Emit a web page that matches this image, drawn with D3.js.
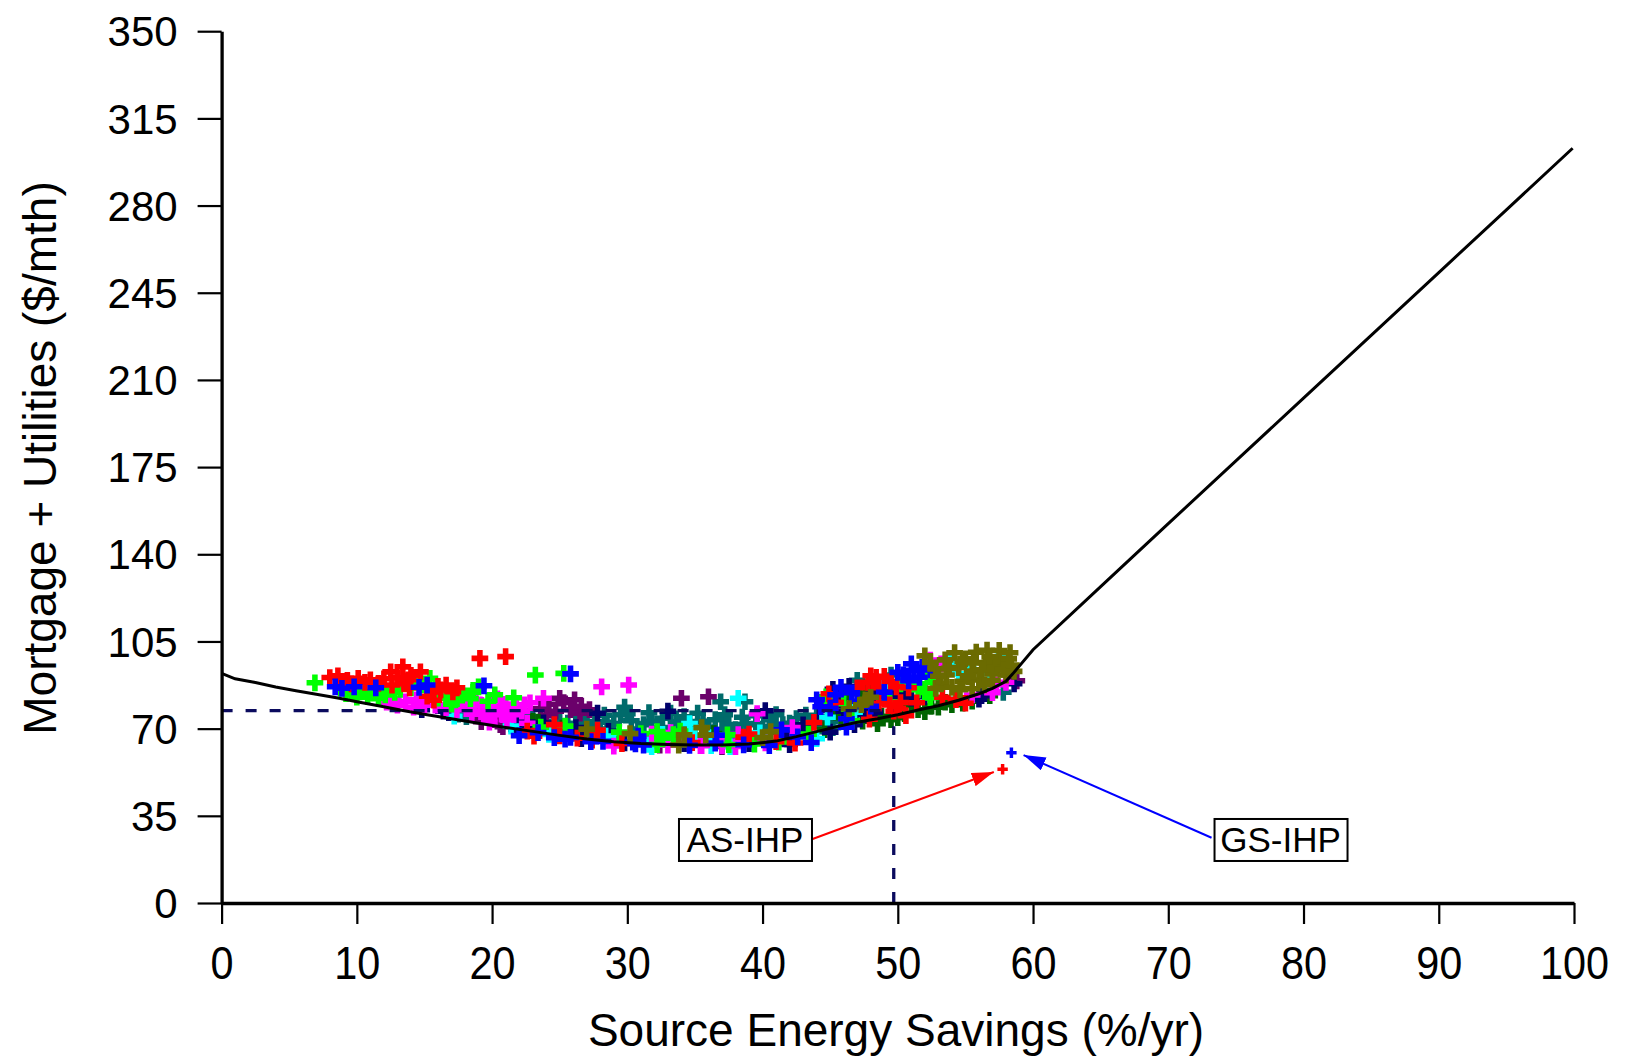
<!DOCTYPE html>
<html>
<head>
<meta charset="utf-8">
<script src="https://cdn.jsdelivr.net/npm/d3@7"></script>
<style>
  body { margin: 0; background: #fff; }
  svg { display: block; }
  text { font-family: "Liberation Sans", Arial, sans-serif; fill: #000; }
</style>
</head>
<body>
<svg id="chart" width="1631" height="1060"></svg>
<script>
// Axis ticks
const xTicks = [0, 10, 20, 30, 40, 50, 60, 70, 80, 90, 100];
const yTicks = [0, 35, 70, 105, 140, 175, 210, 245, 280, 315, 350];

// Least-cost envelope: source energy savings (%/yr) vs mortgage + utilities ($/mth)
const costCurve = [
  [0, 92.2], [1, 90.0], [2.5, 88.5], [4, 86.7], [5.5, 85.2], [7, 83.8], [8.7, 82.2],
  [10.2, 80.6], [11.8, 79.0], [13.4, 77.3], [15.2, 75.6], [17, 74.0], [19, 72.2],
  [21, 70.5], [23, 68.9], [25, 67.3], [27, 65.8], [29, 64.7], [31, 64.0], [33, 63.6],
  [35, 63.4], [37, 63.4], [39, 63.8], [41, 65.0], [42.5, 66.8], [44, 68.8], [45.5, 70.8],
  [47, 72.6], [48.5, 74.0], [50, 75.6], [51.5, 77.5], [53, 79.2], [54.5, 81.4], [56, 84.0],
  [57, 86.2], [58, 89.0], [58.5, 92.0], [60, 101.7], [65, 127.0], [70, 152.3], [75, 177.5],
  [80, 202.7], [85, 227.9], [90, 253.1], [95, 278.3], [99.9, 303.0]
];

// Reference design marked by the dashed guide lines
const refSavings = 49.7;
const refCost = 77.2;

// Simulated design points, one array per group
const seriesRed = [
  [8.0, 90.5], [8.6, 91.2], [9.3, 89.4], [10.1, 90.2], [9.6, 88.0], [10.6, 88.6],
  [12.5, 92.8], [13.4, 94.8], [14.7, 92.8], [13.0, 90.4], [12.6, 87.5], [13.5, 88.0], [13.9, 86.4],
  [15.2, 83.0], [15.7, 81.4], [16.6, 87.5], [17.1, 84.8], [16.2, 85.6],
  [11.0, 89.6], [11.6, 88.2], [12.0, 90.0], [14.0, 91.4], [13.8, 89.6], [16.0, 87.0], [17.4, 86.4], [15.6, 84.8],
  [19.1, 98.2], [21.0, 98.9],
  [23.1, 67.0], [26.3, 66.2], [29.6, 64.0], [34.8, 64.4], [38.6, 66.6], [42.4, 64.2],
  [22.6, 69.0], [25.0, 67.1], [27.4, 65.4], [24.6, 71.6], [27.8, 69.4], [39.0, 67.8], [41.0, 64.8], [43.8, 72.5],
  [44.9, 84.0], [45.4, 80.6], [47.8, 88.6], [48.4, 90.6], [48.6, 86.4], [49.5, 88.8], [49.9, 86.8],
  [47.0, 86.4], [48.0, 91.2], [49.0, 91.0], [50.8, 86.4], [48.6, 80.2], [51.4, 80.4], [50.0, 78.2],
  [47.9, 73.8], [49.4, 79.5], [49.7, 77.0], [50.2, 80.5], [53.3, 82.6], [54.3, 81.6], [55.0, 80.2], [50.6, 75.2]
];
const seriesGreen = [
  [6.9, 88.4], [9.5, 86.0], [10.2, 84.8], [11.2, 84.2], [12.1, 83.5], [10.8, 82.8], [11.8, 85.6],
  [14.4, 88.8], [15.4, 90.2], [14.9, 87.6], [14.0, 86.4],
  [9.2, 84.0], [10.0, 82.6], [11.6, 82.2], [12.8, 84.6], [13.2, 85.8], [15.8, 86.6], [16.0, 82.2],
  [17.8, 83.4], [18.4, 82.0], [18.6, 85.4], [20.2, 83.6], [21.6, 82.4],
  [16.6, 83.0], [17.3, 81.5], [17.0, 79.8], [19.0, 86.8], [19.7, 81.0],
  [23.2, 91.5], [25.3, 92.2], [23.6, 70.6], [32.2, 68.8], [32.6, 66.2], [33.9, 69.0], [37.5, 63.6], [41.2, 64.6],
  [25.4, 71.0], [29.4, 68.6], [31.0, 68.0], [32.2, 63.6], [33.4, 67.6], [37.4, 67.5], [39.4, 63.8], [43.4, 67.8],
  [44.7, 82.8], [46.6, 73.2], [51.6, 88.0], [52.0, 84.5], [51.5, 85.6], [52.6, 88.6], [52.2, 91.0],
  [46.0, 80.0], [50.2, 88.0], [52.8, 86.0], [52.4, 82.4], [49.4, 80.8]
];
const seriesBlue = [
  [8.4, 86.8], [8.9, 86.2], [15.2, 87.5], [14.6, 86.6], [19.4, 87.2], [25.8, 92.0], [9.8, 86.8], [11.4, 86.4],
  [22.0, 67.2], [24.6, 66.4], [25.4, 65.8], [27.3, 64.8], [30.8, 67.0], [31.2, 63.4], [30.4, 64.6],
  [36.5, 64.2], [40.5, 63.2], [43.6, 64.4],
  [23.4, 68.4], [25.8, 66.5], [28.2, 64.9], [30.6, 63.9], [34.6, 63.3], [36.6, 67.4], [38.6, 63.5], [41.4, 69.5], [42.6, 66.7],
  [45.4, 83.6], [45.8, 86.6], [46.2, 74.0], [44.3, 78.8],
  [44.0, 81.6], [45.0, 78.2], [46.6, 84.4], [47.0, 81.0], [50.0, 92.6], [51.6, 90.6], [52.4, 93.6], [49.0, 84.6], [46.2, 70.6],
  [50.4, 91.6], [51.2, 93.4], [50.8, 89.2], [51.8, 94.6], [51.0, 96.0], [48.0, 79.0]
];
const seriesMagenta = [
  [12.7, 82.0], [13.6, 80.8], [14.4, 81.6], [15.0, 79.6], [12.2, 80.6],
  [13.0, 79.4], [14.2, 78.6], [15.8, 79.4], [16.6, 78.4], [17.4, 77.6], [18.0, 80.6], [19.2, 76.8],
  [20.2, 76.2], [21.6, 75.6], [22.2, 77.0], [19.8, 72.6], [21.8, 79.6], [22.8, 80.4], [18.8, 81.6], [20.4, 82.0],
  [17.6, 80.0], [18.3, 78.2], [19.1, 79.6], [19.8, 77.6], [20.5, 79.8], [18.5, 75.8], [19.6, 74.6],
  [20.8, 75.6], [21.3, 77.6], [20.6, 80.6], [21.1, 73.6], [22.4, 79.6],
  [23.8, 82.2], [28.1, 86.8], [30.1, 87.5],
  [22.6, 72.2], [33.2, 68.4], [33.8, 66.4], [35.5, 63.2], [38.0, 62.8], [39.6, 76.0], [29.0, 63.0],
  [33.0, 63.4], [35.4, 63.2], [37.0, 63.2], [31.8, 67.8], [38.2, 67.6], [40.2, 64.3], [42.2, 70.4],
  [52.4, 97.5], [55.5, 83.5], [57.3, 87.6], [58.0, 88.6], [53.2, 96.0], [57.0, 84.4]
];
const seriesCyan = [
  [17.2, 75.0], [21.4, 71.0], [28.4, 67.0], [31.8, 62.8], [34.6, 72.0], [36.0, 66.4], [38.2, 82.2],
  [37.6, 62.8], [44.8, 74.6], [44.0, 66.0],
  [24.2, 67.7], [29.0, 64.5], [31.4, 63.7], [32.6, 67.7], [35.0, 67.4], [36.2, 63.2], [39.8, 68.3],
  [48.8, 87.0], [46.8, 76.6],
  [54.5, 92.0], [55.2, 95.2], [53.8, 96.6], [56.8, 92.2], [57.8, 99.0]
];
const seriesPurple = [
  [19.2, 72.8], [20.0, 73.6], [20.6, 71.6], [18.9, 76.6], [21.6, 72.2], [20.8, 70.8],
  [25.3, 80.5], [26.1, 81.6], [25.8, 77.6], [26.5, 76.2], [24.7, 77.0],
  [23.6, 78.0], [24.2, 79.8], [25.0, 82.2], [26.6, 79.0], [27.2, 77.6], [24.0, 75.2],
  [34.0, 82.2], [36.0, 82.8], [37.0, 62.8], [41.5, 66.4], [32.4, 63.4], [58.8, 89.2]
];
const seriesTeal = [
  [17.5, 75.8], [18.1, 74.8], [22.6, 75.0], [23.8, 72.4], [25.0, 73.2],
  [23.0, 74.6], [24.2, 70.6], [25.6, 72.2], [26.2, 69.4], [22.2, 73.6],
  [26.6, 74.0], [27.6, 72.8], [28.3, 75.4], [27.2, 70.6], [26.8, 71.0], [28.5, 72.6], [29.5, 75.6],
  [29.8, 78.6], [30.3, 73.2], [31.2, 71.6],
  [31.8, 73.0], [32.6, 74.2], [33.6, 72.8], [34.5, 71.0], [33.2, 76.2], [35.6, 73.0],
  [27.0, 76.0], [28.0, 69.8], [29.0, 72.0], [30.0, 76.0], [30.8, 69.8], [31.6, 76.4], [32.4, 70.4],
  [33.4, 69.8], [34.2, 74.8], [35.0, 70.6], [35.2, 76.2], [36.0, 70.6], [37.2, 75.6], [38.0, 69.6],
  [38.8, 71.6], [39.6, 75.2], [40.8, 70.8], [41.0, 75.6], [42.0, 69.8], [42.0, 72.2], [43.2, 75.4],
  [44.2, 71.0], [45.0, 72.8],
  [36.5, 73.6], [37.5, 71.6], [38.5, 74.6], [39.5, 72.0], [40.5, 73.6], [41.5, 71.6], [42.5, 74.0],
  [43.5, 72.0], [37.0, 69.6], [40.0, 69.6], [43.0, 69.6], [44.0, 75.0], [36.9, 80.8], [38.7, 80.8],
  [44.6, 72.4], [49.5, 91.5], [49.2, 85.0], [57.8, 84.6],
  [48.4, 88.0], [50.6, 84.6], [45.2, 70.4], [47.0, 89.4]
];
const seriesNavy = [
  [16.4, 77.0], [21.8, 73.8], [22.0, 72.0], [23.0, 70.4], [27.8, 76.2], [28.8, 66.0], [34.2, 64.0],
  [39.0, 64.0], [42.0, 63.6], [45.0, 68.6], [16.8, 76.4], [14.8, 77.6],
  [21.8, 69.7], [23.8, 72.3], [26.2, 70.4], [26.6, 66.0], [28.6, 68.9], [29.8, 64.3], [37.8, 63.4],
  [41.8, 65.9], [43.0, 71.5],
  [44.5, 79.6], [45.2, 85.8], [46.0, 77.0], [47.5, 75.6], [48.3, 76.6], [48.8, 82.6], [50.2, 84.0],
  [45.6, 81.4], [46.4, 87.0], [47.8, 78.0], [48.2, 84.0], [49.6, 82.0], [51.0, 82.2], [52.0, 82.8],
  [44.2, 74.6], [46.8, 71.6],
  [56.0, 81.8], [58.6, 88.0], [40.2, 77.2], [33.0, 77.0], [56.2, 83.2]
];
const seriesDarkGreen = [
  [46.5, 79.0], [47.2, 84.0], [46.9, 76.6], [48.5, 72.0], [49.5, 73.6], [50.5, 76.0], [51.5, 77.6],
  [52.5, 79.0], [53.5, 80.6], [54.0, 79.6], [55.5, 81.0], [56.8, 83.2], [25.2, 70.2], [23.4, 72.6], [36.4, 68.0],
  [45.8, 74.6], [47.4, 73.0], [48.8, 75.0], [50.0, 74.4], [51.0, 79.4], [52.0, 76.8], [53.0, 78.6],
  [45.4, 76.6], [46.0, 82.4], [47.6, 86.4], [23.0, 72.9], [44.6, 69.6], [54.8, 80.2]
];
const seriesOlive = [
  [52.8, 94.0], [53.5, 97.6], [54.2, 100.5], [55.0, 98.0], [55.8, 100.7], [56.6, 101.5], [57.5, 101.4], [58.3, 100.5],
  [53.6, 91.5], [54.5, 94.5], [55.5, 93.0], [56.5, 96.5], [57.5, 97.0], [58.4, 95.5],
  [54.8, 89.0], [56.0, 89.5], [57.0, 92.0], [58.0, 91.5], [53.2, 88.0], [55.5, 86.0], [52.8, 86.2],
  [53.0, 91.0], [53.8, 94.2], [54.0, 86.6], [54.8, 97.0], [55.2, 90.8], [55.6, 96.4], [56.2, 93.6],
  [56.8, 98.8], [57.2, 94.6], [57.8, 93.8], [58.2, 98.0], [58.6, 93.0], [56.4, 87.6], [57.0, 89.4],
  [54.6, 85.6], [52.0, 99.2], [52.4, 96.6],
  [35.5, 70.4], [30.2, 68.0], [40.0, 66.4], [47.3, 79.6], [47.6, 81.6], [46.4, 78.0], [48.0, 82.6],
  [27.0, 69.8], [33.8, 63.4], [34.2, 67.5], [35.8, 67.4], [40.6, 68.8]
];

// Heat-pump options called out on the chart
const asIhp = [[57.75, 53.7]];
const gsIhp = [[58.4, 60.3]];
const asIhpLabel = { text: "AS-IHP", x: 38.7, y: 25.3, from: [43.7, 25.7], to: [57.1, 52.6] };
const gsIhpLabel = { text: "GS-IHP", x: 78.3, y: 25.3, from: [73.2, 26.2], to: [59.3, 59.4] };

// Drawing order, bottom to top
const scatterGroups = [
  { pts: seriesTeal, color: "#006b6b" },
  { pts: seriesPurple, color: "#6b006b" },
  { pts: seriesDarkGreen, color: "#006400" },
  { pts: seriesNavy, color: "#00006b" },
  { pts: seriesCyan, color: "#00ffff" },
  { pts: seriesMagenta, color: "#ff00ff" },
  { pts: seriesGreen, color: "#00ff00" },
  { pts: seriesRed, color: "#ff0000" },
  { pts: seriesBlue, color: "#0000ff" },
  { pts: seriesOlive, color: "#6b6b00" }
];

const svg = d3.select("#chart");
const margin = { left: 221.6, right: 57, top: 31.2, bottom: 157 };
const W = 1631, H = 1060;

const x = d3.scaleLinear().domain([0, 100]).range([margin.left, W - margin.right]);
const y = d3.scaleLinear().domain([0, 350]).range([H - margin.bottom, margin.top]);

// Scatter of design points
const cross = d3.symbol().type(d3.symbolCross).size(155);
const gPts = svg.append("g");
scatterGroups.forEach(grp => {
  gPts.selectAll(null).data(grp.pts).enter().append("path")
    .attr("d", cross)
    .attr("transform", d => `translate(${x(d[0])},${y(d[1])})`)
    .attr("fill", grp.color);
});

// Dashed reference lines
const navy = "#0b0b5e";
svg.append("line")
  .attr("x1", x(0)).attr("x2", x(refSavings))
  .attr("y1", y(refCost)).attr("y2", y(refCost))
  .attr("stroke", navy).attr("stroke-width", 3.3).attr("stroke-dasharray", "11,13");
svg.append("line")
  .attr("x1", x(refSavings)).attr("x2", x(refSavings))
  .attr("y1", y(0)).attr("y2", y(71))
  .attr("stroke", navy).attr("stroke-width", 3.3).attr("stroke-dasharray", "11,13");

// Least-cost curve
svg.append("path")
  .datum(costCurve)
  .attr("fill", "none")
  .attr("stroke", "#000")
  .attr("stroke-width", 3)
  .attr("d", d3.line().x(d => x(d[0])).y(d => y(d[1])));

// Called-out heat-pump designs
const smallCross = d3.symbol().type(d3.symbolCross).size(60);
svg.selectAll(null).data(asIhp).enter().append("path")
  .attr("d", smallCross).attr("fill", "#ff0000")
  .attr("transform", d => `translate(${x(d[0])},${y(d[1])})`);
svg.selectAll(null).data(gsIhp).enter().append("path")
  .attr("d", smallCross).attr("fill", "#0000ff")
  .attr("transform", d => `translate(${x(d[0])},${y(d[1])})`);

// Arrow heads
const defs = svg.append("defs");
[["arrRed", "#ff0000"], ["arrBlue", "#0000ff"]].forEach(([id, c]) => {
  defs.append("marker")
    .attr("id", id).attr("markerUnits", "userSpaceOnUse")
    .attr("viewBox", "0 0 22 14").attr("refX", 22).attr("refY", 7)
    .attr("markerWidth", 22).attr("markerHeight", 14).attr("orient", "auto")
    .append("path").attr("d", "M0,0 L22,7 L0,14 Z").attr("fill", c);
});

function callout(lab, color, markerId) {
  svg.append("line")
    .attr("x1", x(lab.from[0])).attr("y1", y(lab.from[1]))
    .attr("x2", x(lab.to[0])).attr("y2", y(lab.to[1]))
    .attr("stroke", color).attr("stroke-width", 2)
    .attr("marker-end", `url(#${markerId})`);
  const cx = x(lab.x), cy = y(lab.y);
  svg.append("rect")
    .attr("x", cx - 66).attr("y", cy - 21).attr("width", 133).attr("height", 42)
    .attr("fill", "#fff").attr("stroke", "#000").attr("stroke-width", 2);
  svg.append("text")
    .attr("x", cx).attr("y", cy + 12.5)
    .attr("text-anchor", "middle").attr("font-size", 35)
    .text(lab.text);
}
callout(asIhpLabel, "#ff0000", "arrRed");
callout(gsIhpLabel, "#0000ff", "arrBlue");

// Axes
const yAxis = svg.append("g")
  .attr("transform", `translate(${x(0)},0)`)
  .call(d3.axisLeft(y).tickValues(yTicks).tickSize(24).tickSizeOuter(0).tickPadding(20));
yAxis.selectAll(".tick text").attr("font-size", 42).attr("dy", "0.35em")
  .attr("font-family", "'Liberation Sans', Arial, sans-serif").attr("fill", "#000");

const xAxis = svg.append("g")
  .attr("transform", `translate(0,${y(0)})`)
  .call(d3.axisBottom(x).tickValues(xTicks).tickSize(21).tickSizeOuter(0));
xAxis.selectAll(".tick text")
  .attr("font-size", 46).attr("y", 76).attr("dy", 0)
  .attr("transform", "scale(0.9,1)")
  .attr("font-family", "'Liberation Sans', Arial, sans-serif").attr("fill", "#000");

[yAxis, xAxis].forEach(a => {
  a.select(".domain").attr("stroke", "#000").attr("stroke-width", 3.3);
  a.selectAll(".tick line").attr("stroke", "#000").attr("stroke-width", 2.2);
});

// Axis titles
svg.append("text")
  .attr("x", 896).attr("y", 1046)
  .attr("text-anchor", "middle").attr("font-size", 46)
  .text("Source Energy Savings (%/yr)");
svg.append("text")
  .attr("transform", "translate(56,458) rotate(-90)")
  .attr("text-anchor", "middle").attr("font-size", 46)
  .text("Mortgage + Utilities ($/mth)");
</script>
</body>
</html>
